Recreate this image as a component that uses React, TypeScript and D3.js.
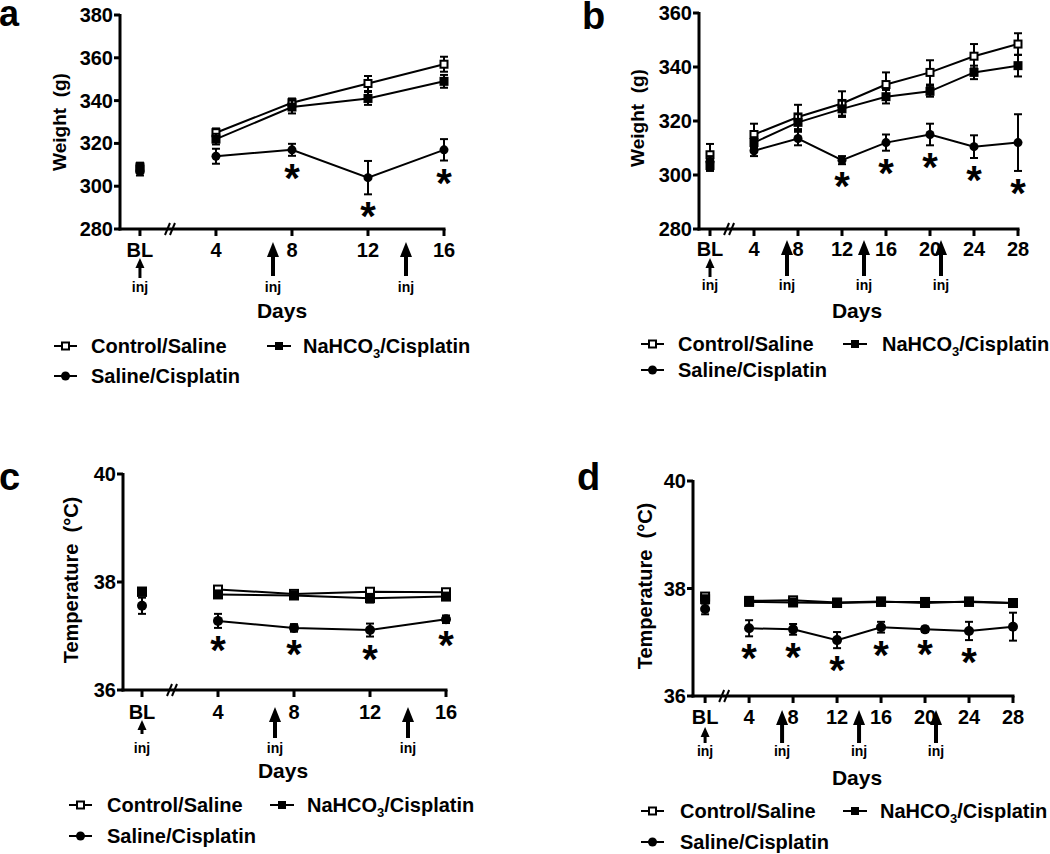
import React from 'react';
import * as d3 from 'd3';

const FONT = '"Liberation Sans", Arial, Helvetica, sans-serif';

// ---------- Data (day 0 = BL) ----------
// Panel a: body weight (g), 16 days
const daysA = [0, 4, 8, 12, 16];
const aControl = [308, 325, 339, 348, 357];
const aControlSE = [2, 2, 2, 3.5, 3.5];
const aSaline = [307, 314, 317, 304, 317];
const aSalineSE = [2, 3.5, 2.8, 7.8, 5];
const aNahco3 = [309, 322, 337, 341, 349];
const aNahco3SE = [2, 2.5, 3, 3, 3];
const aStars = [8, 12, 16];
const aInj = [0, 7, 14];

// Panel b: body weight (g), 28 days
const daysB = [0, 4, 8, 12, 16, 20, 24, 28];
const bControl = [307.5, 315, 321.5, 326.5, 333.5, 338, 344, 348.5];
const bControlSE = [4, 4, 4.5, 4.5, 4.5, 4.5, 4.5, 4];
const bSaline = [305, 309, 313.5, 305.5, 312, 315, 310.5, 312];
const bSalineSE = [2, 2, 2.5, 1.5, 3, 4, 4.2, 10.5];
const bNahco3 = [303.5, 312, 319.5, 324.5, 329, 331, 338, 340.5];
const bNahco3SE = [2, 2, 3, 3, 2.5, 2, 2.5, 4];
const bStars = [12, 16, 20, 24, 28];
const bInj = [0, 7, 14, 21];

// Panel c: temperature (°C), 16 days
const daysC = [0, 4, 8, 12, 16];
const cControl = [37.82, 37.86, 37.78, 37.82, 37.81];
const cControlSE = [0.05, 0.06, 0.04, 0.05, 0.04];
const cSaline = [37.56, 37.28, 37.15, 37.11, 37.31];
const cSalineSE = [0.15, 0.13, 0.07, 0.12, 0.07];
const cNahco3 = [37.82, 37.77, 37.75, 37.7, 37.73];
const cNahco3SE = [0.05, 0.05, 0.04, 0.08, 0.04];
const cStars = [4, 8, 12, 16];
const cInj = [0, 7, 14];

// Panel d: temperature (°C), 28 days
const daysD = [0, 4, 8, 12, 16, 20, 24, 28];
const dControl = [37.85, 37.77, 37.78, 37.74, 37.76, 37.73, 37.76, 37.73];
const dControlSE = [0.04, 0.04, 0.04, 0.04, 0.04, 0.04, 0.04, 0.04];
const dSaline = [37.62, 37.26, 37.24, 37.04, 37.28, 37.24, 37.21, 37.29];
const dSalineSE = [0.1, 0.15, 0.1, 0.15, 0.1, 0.05, 0.17, 0.26];
const dNahco3 = [37.8, 37.75, 37.74, 37.73, 37.75, 37.75, 37.75, 37.73];
const dNahco3SE = [0.04, 0.04, 0.04, 0.04, 0.04, 0.04, 0.04, 0.04];
const dStars = [4, 8, 12, 16, 20, 24];
const dInj = [0, 7, 14, 21];

const weightTicksA = [280, 300, 320, 340, 360, 380];
const weightTicksB = [280, 300, 320, 340, 360];
const tempTicks = [36, 38, 40];

const legendNames = ['Control/Saline', 'Saline/Cisplatin', 'NaHCO3/Cisplatin'];

type Kind = 'open' | 'circle' | 'filled';

interface Series { kind: Kind; values: number[]; se: number[]; }

interface PanelCfg {
  letter: string; letterX: number; letterY: number; letterSize: number;
  days: number[];
  series: Series[];
  stars: number[];
  starsFrom: number;
  inj: number[];
  xDomain: [number, number]; left: number; right: number;
  yDomain: [number, number]; top: number; bottom: number;
  yTicks: number[];
  yFmt: (v: number) => string;
  yLabel: string; yLabelX: number; yLabelY: number; yLabelSize: number;
  xLabelBase: number; tickFont: number;
  arrowTop: number; arrowBottom: number;
  smallTop: number; smallBottom: number;
  injBase: number;
  daysX: number; daysBase: number;
  legRow1: number; legRow2: number;
  legSym1: number; legText1: number; legSym2: number; legText2: number;
  mk: number;
}

function Marker({ kind, cx, cy, s }: { kind: Kind; cx: number; cy: number; s: number }) {
  if (kind === 'circle') return <circle cx={cx} cy={cy} r={s / 2} fill="#000" />;
  if (kind === 'filled') return <rect x={cx - s / 2} y={cy - s / 2} width={s} height={s} fill="#000" />;
  return <rect x={cx - s / 2 + 1} y={cy - s / 2 + 1} width={s - 2} height={s - 2} fill="#fff" stroke="#000" strokeWidth={2} />;
}

function Panel({ c }: { c: PanelCfg }) {
  const x = d3.scaleLinear().domain(c.xDomain).range([c.left, c.right]);
  const y = d3.scaleLinear().domain(c.yDomain).range([c.bottom, c.top]);
  const line = d3.line<number>().x((v, i) => x(c.days[i + 1])).y(v => y(v));
  const starSeries = c.series[c.starsFrom];
  const breakX = (x(c.days[0]) + x(c.days[1])) / 2 - 12 * ((x(4) - x(0)) / 76) + 4;
  return (
    <g fontFamily={FONT} fontWeight="bold">
      <text x={c.letterX} y={c.letterY} fontSize={c.letterSize}>{c.letter}</text>
      <text transform={`translate(${c.yLabelX},${c.yLabelY}) rotate(-90)`} textAnchor="middle" fontSize={c.yLabelSize}
        style={{ whiteSpace: 'pre' }}>{c.yLabel}</text>
      <line x1={c.left} x2={c.left} y1={c.top - 1} y2={c.bottom + 1.5} stroke="#000" strokeWidth={3} />
      <line x1={c.left - 1.5} x2={c.right + 1.5} y1={c.bottom} y2={c.bottom} stroke="#000" strokeWidth={3} />
      {c.yTicks.map(t => (
        <g key={t}>
          <line x1={c.left - 6} x2={c.left} y1={y(t)} y2={y(t)} stroke="#000" strokeWidth={3} />
          <text x={c.left - 7} y={y(t) + 7} textAnchor="end" fontSize={c.tickFont}>{c.yFmt(t)}</text>
        </g>
      ))}
      {c.days.map(d => (
        <g key={d}>
          <line x1={x(d)} x2={x(d)} y1={c.bottom} y2={c.bottom + 7} stroke="#000" strokeWidth={3} />
          <text x={x(d)} y={c.xLabelBase} textAnchor="middle" fontSize={c.tickFont}>{d === 0 ? 'BL' : String(d)}</text>
        </g>
      ))}
      <line x1={breakX - 5} y1={c.bottom + 6} x2={breakX} y2={c.bottom - 6} stroke="#000" strokeWidth={2} />
      <line x1={breakX} y1={c.bottom + 6} x2={breakX + 5} y2={c.bottom - 6} stroke="#000" strokeWidth={2} />
      {c.inj.map(d => {
        const ax = x(d);
        if (d === 0) {
          return (
            <g key={d}>
              <line x1={ax} x2={ax} y1={c.smallTop + 7} y2={c.smallBottom} stroke="#000" strokeWidth={3} />
              <path d={`M${ax},${c.smallTop} L${ax - 4.5},${c.smallTop + 10} L${ax + 4.5},${c.smallTop + 10} Z`} fill="#000" />
              <text x={ax} y={c.injBase} textAnchor="middle" fontSize={14}>inj</text>
            </g>
          );
        }
        return (
          <g key={d}>
            <line x1={ax} x2={ax} y1={c.arrowTop + 12} y2={c.arrowBottom} stroke="#000" strokeWidth={4} />
            <path d={`M${ax},${c.arrowTop} L${ax - 6},${c.arrowTop + 15} L${ax + 6},${c.arrowTop + 15} Z`} fill="#000" />
            <text x={ax} y={c.injBase} textAnchor="middle" fontSize={14}>inj</text>
          </g>
        );
      })}
      <text x={c.daysX} y={c.daysBase} textAnchor="middle" fontSize={21}>Days</text>
      {c.series.map((s, si) => (
        <g key={si}>
          {s.values.map((v, i) => {
            const cx = x(c.days[i]);
            const y1 = y(v + s.se[i]);
            const y2 = y(v - s.se[i]);
            return (
              <g key={i} stroke="#000" strokeWidth={2}>
                <line x1={cx} x2={cx} y1={y1} y2={y2} />
                <line x1={cx - 4} x2={cx + 4} y1={y1} y2={y1} />
                <line x1={cx - 4} x2={cx + 4} y1={y2} y2={y2} />
              </g>
            );
          })}
          <path d={line(s.values.slice(1)) || ''} fill="none" stroke="#000" strokeWidth={2} />
          {s.values.map((v, i) => <Marker key={i} kind={s.kind} cx={x(c.days[i])} cy={y(v)} s={c.mk} />)}
        </g>
      ))}
      {c.stars.map(d => {
        const i = c.days.indexOf(d);
        const cy = y(starSeries.values[i] - starSeries.se[i]) + 13;
        return <text key={d} x={x(d)} y={cy + 23} textAnchor="middle" fontSize={40}>*</text>;
      })}
      <g>
        <line x1={c.legSym1} x2={c.legSym1 + 23} y1={c.legRow1} y2={c.legRow1} stroke="#000" strokeWidth={2} />
        <Marker kind="open" cx={c.legSym1 + 11.5} cy={c.legRow1} s={9} />
        <text x={c.legText1} y={c.legRow1 + 7} fontSize={20}>{legendNames[0]}</text>
        <line x1={c.legSym2} x2={c.legSym2 + 24} y1={c.legRow1} y2={c.legRow1} stroke="#000" strokeWidth={2} />
        <Marker kind="filled" cx={c.legSym2 + 12} cy={c.legRow1} s={8} />
        <text x={c.legText2} y={c.legRow1 + 7} fontSize={20}>NaHCO<tspan fontSize={13} dy={5}>3</tspan><tspan dy={-5}>/Cisplatin</tspan></text>
        <line x1={c.legSym1} x2={c.legSym1 + 23} y1={c.legRow2} y2={c.legRow2} stroke="#000" strokeWidth={2} />
        <Marker kind="circle" cx={c.legSym1 + 11.5} cy={c.legRow2} s={9} />
        <text x={c.legText1} y={c.legRow2 + 7} fontSize={20}>{legendNames[1]}</text>
      </g>
    </g>
  );
}

const fmtInt = (v: number) => String(v);

const panels: PanelCfg[] = [
  {
    letter: 'a', letterX: -1, letterY: 26, letterSize: 36,
    days: daysA,
    series: [
      { kind: 'open', values: aControl, se: aControlSE },
      { kind: 'circle', values: aSaline, se: aSalineSE },
      { kind: 'filled', values: aNahco3, se: aNahco3SE },
    ],
    stars: aStars, starsFrom: 1, inj: aInj,
    xDomain: [-1.05, 16], left: 120, right: 444,
    yDomain: [280, 380], top: 15, bottom: 229,
    yTicks: weightTicksA, yFmt: fmtInt,
    yLabel: 'Weight  (g)', yLabelX: 66, yLabelY: 122, yLabelSize: 19,
    xLabelBase: 257, tickFont: 20,
    arrowTop: 242, arrowBottom: 276, smallTop: 258, smallBottom: 278,
    injBase: 292, daysX: 282, daysBase: 318,
    legRow1: 346, legRow2: 376, legSym1: 54, legText1: 91, legSym2: 267, legText2: 303,
    mk: 9,
  },
  {
    letter: 'b', letterX: 582, letterY: 29, letterSize: 38,
    days: daysB,
    series: [
      { kind: 'open', values: bControl, se: bControlSE },
      { kind: 'circle', values: bSaline, se: bSalineSE },
      { kind: 'filled', values: bNahco3, se: bNahco3SE },
    ],
    stars: bStars, starsFrom: 1, inj: bInj,
    xDomain: [-1, 28], left: 699, right: 1018,
    yDomain: [280, 360], top: 13, bottom: 229,
    yTicks: weightTicksB, yFmt: fmtInt,
    yLabel: 'Weight  (g)', yLabelX: 644, yLabelY: 118, yLabelSize: 19,
    xLabelBase: 256, tickFont: 20,
    arrowTop: 240, arrowBottom: 276, smallTop: 258, smallBottom: 277,
    injBase: 290, daysX: 857, daysBase: 318,
    legRow1: 344, legRow2: 370, legSym1: 641, legText1: 678, legSym2: 843, legText2: 882,
    mk: 9,
  },
  {
    letter: 'c', letterX: -1, letterY: 490, letterSize: 38,
    days: daysC,
    series: [
      { kind: 'open', values: cControl, se: cControlSE },
      { kind: 'circle', values: cSaline, se: cSalineSE },
      { kind: 'filled', values: cNahco3, se: cNahco3SE },
    ],
    stars: cStars, starsFrom: 1, inj: cInj,
    xDomain: [-1, 16], left: 123, right: 446,
    yDomain: [36, 40], top: 474, bottom: 690,
    yTicks: tempTicks, yFmt: fmtInt,
    yLabel: 'Temperature  (°C)', yLabelX: 78, yLabelY: 580, yLabelSize: 20,
    xLabelBase: 719, tickFont: 20,
    arrowTop: 707, arrowBottom: 738, smallTop: 720, smallBottom: 734,
    injBase: 753, daysX: 283, daysBase: 778,
    legRow1: 805, legRow2: 836, legSym1: 69, legText1: 107, legSym2: 270, legText2: 307,
    mk: 10,
  },
  {
    letter: 'd', letterX: 577, letterY: 490, letterSize: 38,
    days: daysD,
    series: [
      { kind: 'open', values: dControl, se: dControlSE },
      { kind: 'circle', values: dSaline, se: dSalineSE },
      { kind: 'filled', values: dNahco3, se: dNahco3SE },
    ],
    stars: dStars, starsFrom: 1, inj: dInj,
    xDomain: [-1.1, 28], left: 693, right: 1013,
    yDomain: [36, 40], top: 481, bottom: 696,
    yTicks: tempTicks, yFmt: fmtInt,
    yLabel: 'Temperature  (°C)', yLabelX: 652, yLabelY: 586, yLabelSize: 20,
    xLabelBase: 724, tickFont: 20,
    arrowTop: 710, arrowBottom: 743, smallTop: 727, smallBottom: 743,
    injBase: 756, daysX: 857, daysBase: 785,
    legRow1: 811, legRow2: 842, legSym1: 641, legText1: 680, legSym2: 843, legText2: 880,
    mk: 10,
  },
];

export default function App() {
  return (
    <svg width={1050} height={854} viewBox="0 0 1050 854"
      style={{ position: 'absolute', left: 0, top: 0, background: '#fff' }}>
      <rect x={0} y={0} width={1050} height={854} fill="#fff" />
      {panels.map((p, i) => <Panel key={i} c={p} />)}
    </svg>
  );
}
